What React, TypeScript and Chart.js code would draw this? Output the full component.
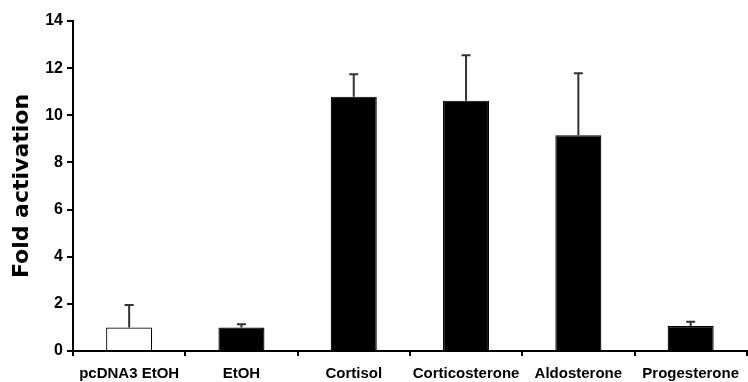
import React, { useEffect, useRef } from "react";
import { Chart, registerables } from "chart.js";

Chart.register(...registerables);

const categories = ["pcDNA3 EtOH", "EtOH", "Cortisol", "Corticosterone", "Aldosterone", "Progesterone"];
const values = [1.0, 1.0, 10.79, 10.62, 9.15, 1.06];
const errors = [0.95, 0.13, 0.95, 1.93, 2.63, 0.18];
const fillColors = ["#ffffff", "#000000", "#000000", "#000000", "#000000", "#000000"];
const yTicks = { min: 0, max: 14, step: 2 };

const errorBarPlugin = {
  id: "errorBars",
  afterDatasetsDraw(chart: any) {
    const meta = chart.getDatasetMeta(0);
    const yScale = chart.scales.y;
    const ctx = chart.ctx;
    ctx.save();
    ctx.strokeStyle = "#333333";
    ctx.lineWidth = 2;
    meta.data.forEach((bar: any, i: number) => {
      const x = bar.x;
      const yBase = yScale.getPixelForValue(values[i]);
      const yTop = yScale.getPixelForValue(values[i] + errors[i]);
      ctx.beginPath();
      ctx.moveTo(x, yBase);
      ctx.lineTo(x, yTop);
      ctx.moveTo(x - 4.5, yTop);
      ctx.lineTo(x + 4.5, yTop);
      ctx.stroke();
    });
    ctx.restore();
  },
};

export default function App() {
  const ref = useRef<HTMLCanvasElement | null>(null);
  useEffect(() => {
    document.body.style.margin = "0";
    const canvas = ref.current!;
    const chart = new Chart(canvas, {
      type: "bar",
      data: {
        labels: categories,
        datasets: [
          {
            data: values,
            backgroundColor: fillColors,
            borderColor: "#000000",
            borderWidth: 1.2,
            barPercentage: 0.41,
            categoryPercentage: 1,
          },
        ],
      },
      options: {
        responsive: false,
        animation: false,
        devicePixelRatio: 1,
        layout: { padding: { top: 21, right: 0, left: 0, bottom: 0 } },
        plugins: { legend: { display: false }, tooltip: { enabled: false } },
        scales: {
          x: {
            offset: true,
            grid: {
              offset: true,
              drawOnChartArea: false,
              drawTicks: true,
              tickLength: 5,
              color: "#000000",
              lineWidth: 2,
            },
            border: { color: "#000000", width: 2 },
            ticks: {
              color: "#000000",
              font: { family: "'Liberation Sans', Arial, sans-serif", size: 15, weight: "bold" },
              padding: 9,
              maxRotation: 0,
              autoSkip: false,
            },
            afterFit(scale: any) {
              scale.height = 31;
            },
          },
          y: {
            min: yTicks.min,
            max: yTicks.max,
            grid: {
              drawOnChartArea: false,
              drawTicks: true,
              tickLength: 6,
              color: "#000000",
              lineWidth: 2,
            },
            border: { color: "#000000", width: 2 },
            ticks: {
              stepSize: yTicks.step,
              color: "#000000",
              font: { family: "'Liberation Sans', Arial, sans-serif", size: 16, weight: "bold" },
              padding: 4,
            },
            title: {
              display: true,
              text: "Fold activation",
              color: "#000000",
              font: { family: "'DejaVu Sans', Verdana, sans-serif", size: 22, weight: "bold" },
              padding: { top: 9, bottom: 0 },
            },
            afterFit(scale: any) {
              scale.width = 73;
            },
          },
        },
      },
      plugins: [errorBarPlugin],
    });
    return () => chart.destroy();
  }, []);
  return <canvas ref={ref} width={748} height={382} style={{ display: "block" }} />;
}
